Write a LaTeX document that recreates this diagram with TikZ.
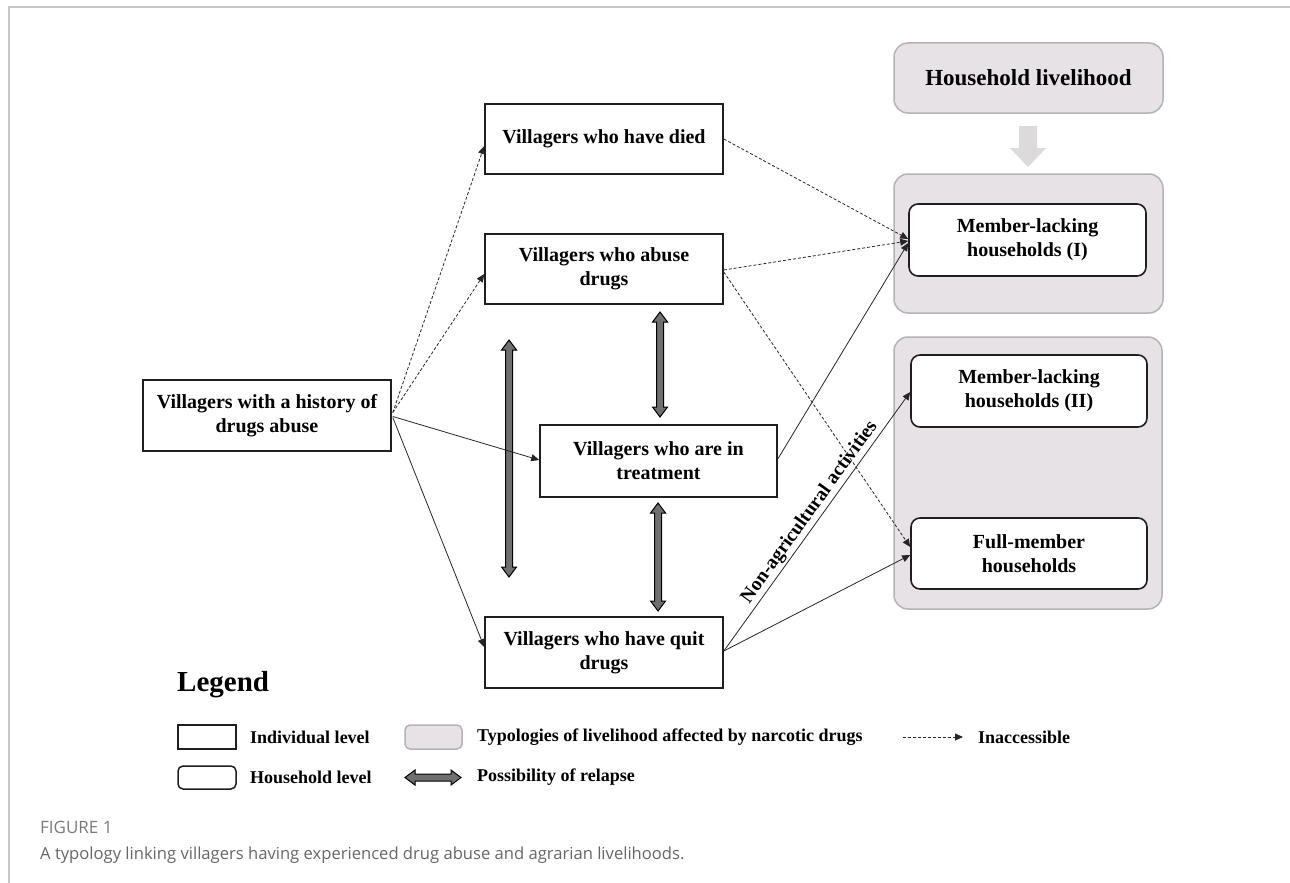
\documentclass[tikz,border=0pt]{standalone}
\usepackage{fontspec}
\setmainfont{Liberation Serif}
\newfontfamily\capfont{Open Sans}
\usetikzlibrary{arrows.meta,calc}
\definecolor{panelfill}{HTML}{E6E2E5}
\definecolor{paneldraw}{HTML}{B5B3B4}
\definecolor{hlarrow}{HTML}{DDDADC}
\definecolor{relgray}{HTML}{6F6F6F}
\definecolor{framegray}{HTML}{C8C8C8}
\definecolor{capgray}{HTML}{666666}
\definecolor{figgray}{HTML}{7A7A7A}
\newcommand{\boxfont}{\fontsize{20}{24}\selectfont\bfseries}
\newcommand{\legfont}{\fontsize{18}{22}\selectfont\bfseries}
\tikzset{
  indiv/.style={draw=black!88, line width=1.6pt, fill=white, align=center, font=\boxfont, inner sep=0pt},
  house/.style={draw=black!88, line width=1.6pt, fill=white, rounded corners=9pt, align=center, font=\boxfont, inner sep=0pt},
  panel/.style={draw=paneldraw, line width=1.5pt, fill=panelfill, rounded corners=14pt, inner sep=0pt},
  inacc/.style={draw=black!85, line width=0.8pt, dash pattern=on 3pt off 2pt, -{Triangle[length=8pt,width=7pt]}},
  acc/.style={draw=black!85, line width=0.8pt, -{Triangle[length=8pt,width=7pt]}},
  relapsebody/.style={draw=black, line width=1pt, fill=relgray, line join=miter},
  legtext/.style={anchor=west, font=\legfont, inner sep=0pt},
  pics/vrel/.style={code={
    \draw[relapsebody] (0,0) -- (7.5,10) -- (3.5,10) -- (3.5,#1-10) -- (7.5,#1-10) -- (0,#1)
      -- (-7.5,#1-10) -- (-3.5,#1-10) -- (-3.5,10) -- (-7.5,10) -- cycle;
  }}
}
\begin{document}
\begin{tikzpicture}[x=1pt,y=-1pt]
\useasboundingbox (0,0) rectangle (1290,883);
\fill[white] (0,0) rectangle (1290,883);
% frame
\draw[framegray, line width=1.5pt] (9,883) -- (9,7) -- (1290,7);

% right side: household livelihood
\node[panel, minimum width=269, minimum height=70, font=\fontsize{23}{27}\selectfont\bfseries] (hl) at (1028.5,78) {Household livelihood};
\fill[hlarrow] (1019,126) -- (1037,126) -- (1037,148) -- (1046,148) -- (1028,167) -- (1010,148) -- (1019,148) -- cycle;
\node[panel, minimum width=269, minimum height=139] (p1) at (1028.5,243.5) {};
\node[panel, minimum width=268, minimum height=272] (p2) at (1028,473) {};
\node[house, minimum width=237, minimum height=72] (mli) at (1027.5,240) {Member-lacking\\households (I)};
\node[house, minimum width=236, minimum height=72] (mlii) at (1029,391) {Member-lacking\\households (II)};
\node[house, minimum width=236, minimum height=71] (fm) at (1029,553.5) {Full-member\\households};

% individual boxes
\node[indiv, minimum width=248, minimum height=71] (hist) at (267,415.5) {Villagers with a history of\\drugs abuse};
\node[indiv, minimum width=238, minimum height=70] (died) at (604,139) {Villagers who have died};
\node[indiv, minimum width=238, minimum height=70] (abuse) at (604,269) {Villagers who abuse\\drugs};
\node[indiv, minimum width=237, minimum height=72] (treat) at (658.5,461) {Villagers who are in\\treatment};
\node[indiv, minimum width=238, minimum height=71] (quit) at (604,652.5) {Villagers who have quit\\drugs};

% relapse arrows
\pic at (509,340) {vrel=237};
\pic at (660,312) {vrel=105};
\pic at (658,503) {vrel=108};

% connectors from history
\draw[inacc] ($(hist.east)+(1,-3)$) -- ($(died.west)+(0,7)$);
\draw[inacc] ($(hist.east)+(1,-3)$) -- ($(abuse.west)+(0,5)$);
\draw[acc] ($(hist.east)+(1,1)$) -- ($(treat.west)+(0,-1)$);
\draw[acc] ($(hist.east)+(1,2)$) -- ($(quit.west)+(0,-5.5)$);
% to households
\draw[inacc] (died.east) -- ($(mli.west)+(0,-1)$);
\draw[inacc] ($(abuse.east)+(0,1)$) -- ($(mli.west)+(0,1)$);
\draw[acc] ($(treat.east)+(0,-2)$) -- ($(mli.west)+(0,3)$);
\draw[inacc] ($(abuse.east)+(0,3)$) -- ($(fm.west)+(0,-6.5)$);
\draw[acc] ($(quit.east)+(0,-1.5)$) -- node[sloped, above, pos=0.51, inner sep=2pt, font=\fontsize{19.5}{22}\selectfont\bfseries] (nonag) {Non-agricultural activities} ($(mlii.west)+(0,1)$);
\draw[acc] ($(quit.east)+(0,-1.5)$) -- ($(fm.west)+(0,1.5)$);

% legend
\node[anchor=base west, inner sep=0pt, font=\fontsize{29}{33}\selectfont\bfseries] (legtitle) at (177,691) {Legend};
\node[draw=black!88, line width=1.5pt, minimum width=58, minimum height=24, inner sep=0pt] (lg1) at (207,737) {};
\node[legtext] (lt1) at (250,737) {Individual level};
\node[draw=black!88, line width=1.5pt, rounded corners=5pt, minimum width=58, minimum height=23, inner sep=0pt] (lg2) at (207,777.5) {};
\node[legtext] (lt2) at (250,777.5) {Household level};
\node[draw=paneldraw, fill=panelfill, line width=1.5pt, rounded corners=5pt, minimum width=57, minimum height=24, inner sep=0pt] (lg3) at (433.5,737) {};
\node[legtext] (lt3) at (477,737) {Typologies\ of\ livelihood\ affected\ by narcotic\ drugs};
\coordinate (lg4a) at (405,777.5);
\pic[rotate=90] at (lg4a) {vrel=56};
\node[legtext] (lt4) at (477,777.5) {Possibility of relapse};
\coordinate (lg5a) at (903,737);
\coordinate (lg5b) at (963,737);
\draw[inacc] (lg5a) -- (lg5b);
\node[legtext] (lt5) at (978,737) {Inaccessible};

% caption
\node[anchor=base west, inner sep=0pt, text=figgray, font=\capfont\fontsize{17}{20}\selectfont] (figlabel) at (40,833) {FIGURE 1};
\node[anchor=base west, inner sep=0pt, text=capgray, font=\capfont\fontsize{16.6}{20}\selectfont] (caption) at (40,859) {A typology linking villagers having experienced drug abuse and agrarian livelihoods.};
\end{tikzpicture}
\end{document}
